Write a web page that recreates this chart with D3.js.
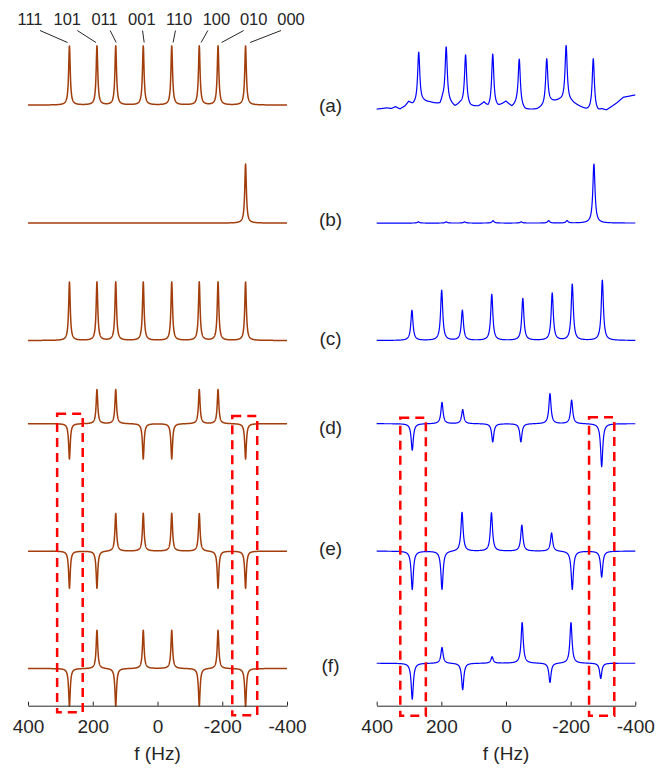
<!DOCTYPE html>
<html>
<head>
<meta charset="utf-8">
<script src="https://cdn.jsdelivr.net/npm/d3@7/dist/d3.min.js"></script>
<style>
  body { margin: 0; background: #fff; }
  text { font-family: "Liberation Sans", Arial, sans-serif; fill: #262626; }
</style>
</head>
<body>
<div id="root"></div>
<script>
// ---- data ----
var freqTicks = [400, 200, 0, -200, -400];
var stateLabels = ['111', '101', '011', '001', '110', '100', '010', '000'];
var rowNames = ['(a)', '(b)', '(c)', '(d)', '(e)', '(f)'];

// simulated spectra (left), line positions in Hz
var simFreqs = [272, 187, 129, 44, -44, -129, -187, -272];
var simA = [1, 1, 1, 1, 1, 1, 1, 1];
var simB = [0, 0, 0, 0, 0, 0, 0, 1];
var simC = [0.99, 0.99, 0.99, 0.99, 0.99, 0.99, 0.99, 0.99];
var simD = [-0.6, 0.58, 0.58, -0.6, -0.6, 0.58, 0.58, -0.6];
var simE = [-0.63, -0.63, 0.64, 0.64, 0.64, 0.64, -0.63, -0.63];
var simF = [-0.64, 0.65, -0.64, 0.65, 0.65, -0.64, 0.65, -0.64];
var simOffsets = [10.18, 8.18, 6.19, 4.78, 2.62, 0.63];

// experimental spectra (right)
var expFreqsA = [270, 185, 125, 41, -41, -126, -186, -270];
var expFreqsB = [271, 185, 128, 40, -47, -132, -189, -272];
var expFreqsC = [291, 199, 135, 44, -52, -143, -205, -298];
var expFreqsD = [290, 198, 134, 41, -46, -136, -203, -296];
var expFreqsE = [290, 198, 136, 45, -49, -141, -205, -296];
var expFreqsF = [290, 198, 134, 43, -50, -136, -201, -293];
var expA = [0.87, 0.93, 0.86, 0.91, 0.80, 0.78, 0.95, 0.89];
var expB = [0.02, 0.02, 0.02, 0.04, 0.02, 0.04, 0.04, 1.0];
var expC = [0.51, 0.85, 0.51, 0.78, 0.71, 0.80, 0.95, 1.02];
var expD = [-0.45, 0.36, 0.24, -0.31, -0.31, 0.51, 0.40, -0.73];
var expE = [-0.65, -0.65, 0.66, 0.65, 0.44, 0.31, -0.65, -0.44];
var expF = [-0.61, 0.27, -0.45, 0.11, 0.69, -0.33, 0.69, -0.26];
var expOffsets = [10.11, 8.18, 6.19, 4.78, 2.62, 0.72];

// rolling baseline of experimental (a): Hz and level
var baseAFreqs = [400, 369, 354, 342, 328, 312, 301, 289, 278, 256, 235, 204, 196, 168, 158, 142,
  111, 85, 68, 55, 24, 0, -18, -33, -59, -95, -115, -138, -167, -203, -224, -250, -285, -296,
  -311, -342, -363, -400];
var baseAVals = [0, 0.02, 0.01, 0.04, 0, 0.05, 0.12, 0.07, 0.08, 0.12, 0.11, 0.07, 0.15, 0.07, 0.03, 0.08,
  0.03, 0.04, 0.10, 0.01, 0.03, 0.12, 0.03, 0.07, -0.02, -0.01, 0.03, 0.11, 0.14, 0.11, 0.05, -0.02, -0.05, -0.01,
  -0.02, 0.10, 0.20, 0.24];

// dashed boxes: [high Hz, low Hz, top, bottom]
var simBoxes = [[310, 231, 4.95, -0.11], [-231, -308, 4.91, -0.16]];
var expBoxes = [[327, 248, 4.88, -0.17], [-257, -335, 4.89, -0.17]];

// ---- layout ----
var width = 659, height = 769;
var axisY = 705.7;
var brown = '#a23e0c', blue = '#0000ff';

var svg = d3.select('#root')
  .append('svg')
    .attr('width', width)
    .attr('height', height);

var y = d3.scaleLinear().domain([0, 10]).range([axisY, axisY - 590]);
var xL = d3.scaleLinear().domain([400, -400]).range([28, 287]);
var xR = d3.scaleLinear().domain([400, -400]).range([376.7, 635.3]);

var grid = d3.range(400, -400.001, -0.25);
var flat = function() { return 0; };
var baseA = d3.scaleLinear().domain(baseAFreqs).range(baseAVals);

function spectrum(freqs, amps, gamma, base) {
  return grid.map(function(f) {
    var v = base(f);
    freqs.forEach(function(f0, i) {
      var d = f - f0;
      v += amps[i] * gamma * gamma / (d * d + gamma * gamma);
    });
    return {f: f, v: v};
  });
}

function drawPanel(x, rows, offsets, color, lw, boxes) {
  var g = svg.append('g');
  rows.forEach(function(r, i) {
    var line = d3.line()
      .x(function(d) { return x(d.f); })
      .y(function(d) { return y(offsets[i] + d.v); });
    g.append('path')
      .datum(r)
      .attr('d', line)
      .attr('fill', 'none')
      .attr('stroke', color)
      .attr('stroke-width', lw)
      .attr('stroke-linejoin', 'round');
  });

  var ax = g.append('g')
    .attr('transform', 'translate(0,' + axisY + ')')
    .call(d3.axisBottom(x)
      .tickValues(freqTicks)
      .tickFormat(function(d) { return String(d); })
      .tickSizeInner(-4)
      .tickSizeOuter(0)
      .tickPadding(14));
  ax.select('.domain').attr('stroke', '#262626');
  ax.selectAll('.tick line').attr('stroke', '#262626');
  ax.selectAll('.tick text')
    .style('font-size', '19px')
    .attr('fill', '#262626')
    .attr('font-family', '"Liberation Sans", Arial, sans-serif');

  g.append('text')
    .attr('x', (x.range()[0] + x.range()[1]) / 2)
    .attr('y', 760)
    .attr('text-anchor', 'middle')
    .style('font-size', '19px')
    .text('f (Hz)');

  g.selectAll('rect.box')
    .data(boxes)
    .enter()
    .append('rect')
      .attr('class', 'box')
      .attr('x', function(d) { return x(d[0]); })
      .attr('y', function(d) { return y(d[2]); })
      .attr('width', function(d) { return x(d[1]) - x(d[0]); })
      .attr('height', function(d) { return y(d[3]) - y(d[2]); })
      .attr('fill', 'none')
      .attr('stroke', '#ff0000')
      .attr('stroke-width', 2.5)
      .attr('stroke-dasharray', '9,6');
}

var simRows = [simA, simB, simC, simD, simE, simF].map(function(a) {
  return spectrum(simFreqs, a, 3, flat);
});
var expRows = [
  spectrum(expFreqsA, expA, 4, baseA),
  spectrum(expFreqsB, expB, 4, flat),
  spectrum(expFreqsC, expC, 4, flat),
  spectrum(expFreqsD, expD, 4, flat),
  spectrum(expFreqsE, expE, 4, flat),
  spectrum(expFreqsF, expF, 4, flat)
];

drawPanel(xL, simRows, simOffsets, brown, 1.5, simBoxes);
drawPanel(xR, expRows, expOffsets, blue, 1.2, expBoxes);

// row labels between the panels
var labelY = [111.5, 226, 344.7, 433.5, 554.5, 671.5];
svg.selectAll('text.row')
  .data(rowNames)
  .enter()
  .append('text')
    .attr('class', 'row')
    .attr('x', 330.5)
    .attr('y', function(d, i) { return labelY[i]; })
    .attr('text-anchor', 'middle')
    .style('font-size', '19px')
    .text(function(d) { return d; });

// spin-state labels with leader lines
var lx = d3.scalePoint().domain(stateLabels).range([30, 291]);
svg.selectAll('text.state')
  .data(stateLabels)
  .enter()
  .append('text')
    .attr('class', 'state')
    .attr('x', function(d) { return lx(d); })
    .attr('y', 25)
    .attr('text-anchor', 'middle')
    .style('font-size', '16.5px')
    .text(function(d) { return d; });

svg.selectAll('line.lead')
  .data(stateLabels)
  .enter()
  .append('line')
    .attr('class', 'lead')
    .each(function(d, i) {
      var px = xL(simFreqs[i]);
      var tx = lx(d) + Math.max(-10, Math.min(10, (px - lx(d)) * 0.5));
      var bx = px + 0.1 * (tx - px) + 1;
      d3.select(this)
        .attr('x1', tx).attr('y1', 30.5)
        .attr('x2', bx).attr('y2', 42.5);
    })
    .attr('stroke', '#262626')
    .attr('stroke-width', 1);
</script>
</body>
</html>
